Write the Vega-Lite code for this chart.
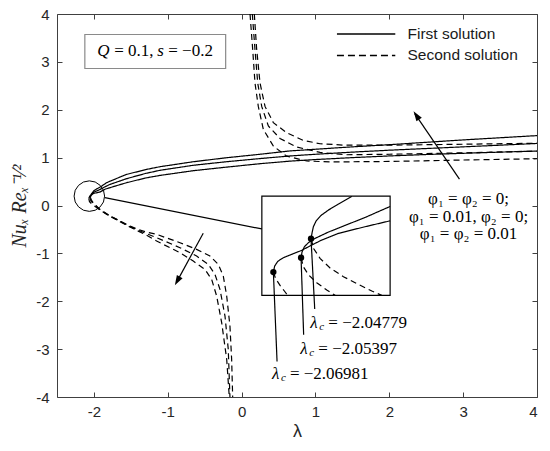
{
  "$schema": "https://vega.github.io/schema/vega-lite/v6.json",
  "width": 480,
  "height": 383,
  "autosize": {"type": "none"},
  "padding": {"left": 57, "top": 14, "right": 13, "bottom": 54},
  "background": "white",
  "config": {
    "view": {"stroke": "#404040", "strokeWidth": 1},
    "axis": {"grid": false, "domain": false, "tickColor": "#404040", "labelColor": "#262626", "labelFont": "Liberation Sans", "labelFontSize": 15, "titleColor": "#262626"}
  },
  "datasets": {
    "main": [
      {"g":"F1","s":"first","x":-2.04779,"y":0.17},{"g":"F1","s":"first","x":-2.035,"y":0.24},{"g":"F1","s":"first","x":-2.0,"y":0.31},{"g":"F1","s":"first","x":-1.965,"y":0.345},{"g":"F1","s":"first","x":-1.9,"y":0.40},{"g":"F1","s":"first","x":-1.829,"y":0.476},{"g":"F1","s":"first","x":-1.7,"y":0.56},{"g":"F1","s":"first","x":-1.558,"y":0.649},{"g":"F1","s":"first","x":-1.3,"y":0.75},{"g":"F1","s":"first","x":-1.106,"y":0.81},{"g":"F1","s":"first","x":-0.655,"y":0.914},{"g":"F1","s":"first","x":-0.202,"y":0.998},{"g":"F1","s":"first","x":0.249,"y":1.07},{"g":"F1","s":"first","x":0.656,"y":1.14},{"g":"F1","s":"first","x":1.0,"y":1.175},{"g":"F1","s":"first","x":1.5,"y":1.225},{"g":"F1","s":"first","x":2.0,"y":1.27},{"g":"F1","s":"first","x":2.5,"y":1.32},{"g":"F1","s":"first","x":3.0,"y":1.37},{"g":"F1","s":"first","x":3.5,"y":1.415},{"g":"F1","s":"first","x":4.0,"y":1.46},
      {"g":"F2","s":"first","x":-2.05397,"y":0.16},{"g":"F2","s":"first","x":-2.04,"y":0.22},{"g":"F2","s":"first","x":-2.0,"y":0.28},{"g":"F2","s":"first","x":-1.943,"y":0.315},{"g":"F2","s":"first","x":-1.85,"y":0.39},{"g":"F2","s":"first","x":-1.784,"y":0.44},{"g":"F2","s":"first","x":-1.558,"y":0.56},{"g":"F2","s":"first","x":-1.3,"y":0.67},{"g":"F2","s":"first","x":-1.106,"y":0.735},{"g":"F2","s":"first","x":-0.655,"y":0.84},{"g":"F2","s":"first","x":-0.202,"y":0.915},{"g":"F2","s":"first","x":0.249,"y":0.98},{"g":"F2","s":"first","x":0.656,"y":1.035},{"g":"F2","s":"first","x":1.0,"y":1.07},{"g":"F2","s":"first","x":1.5,"y":1.115},{"g":"F2","s":"first","x":2.0,"y":1.155},{"g":"F2","s":"first","x":2.5,"y":1.19},{"g":"F2","s":"first","x":3.0,"y":1.225},{"g":"F2","s":"first","x":3.5,"y":1.26},{"g":"F2","s":"first","x":4.0,"y":1.296},
      {"g":"F3","s":"first","x":-2.06981,"y":0.15},{"g":"F3","s":"first","x":-2.055,"y":0.20},{"g":"F3","s":"first","x":-2.0,"y":0.255},{"g":"F3","s":"first","x":-1.92,"y":0.28},{"g":"F3","s":"first","x":-1.85,"y":0.34},{"g":"F3","s":"first","x":-1.739,"y":0.393},{"g":"F3","s":"first","x":-1.558,"y":0.476},{"g":"F3","s":"first","x":-1.3,"y":0.575},{"g":"F3","s":"first","x":-1.106,"y":0.628},{"g":"F3","s":"first","x":-0.655,"y":0.727},{"g":"F3","s":"first","x":-0.202,"y":0.802},{"g":"F3","s":"first","x":0.249,"y":0.873},{"g":"F3","s":"first","x":0.656,"y":0.927},{"g":"F3","s":"first","x":1.0,"y":0.96},{"g":"F3","s":"first","x":1.5,"y":1.0},{"g":"F3","s":"first","x":2.0,"y":1.035},{"g":"F3","s":"first","x":2.5,"y":1.065},{"g":"F3","s":"first","x":3.0,"y":1.09},{"g":"F3","s":"first","x":3.5,"y":1.115},{"g":"F3","s":"first","x":4.0,"y":1.136},
      {"g":"L1","s":"second","x":-2.04779,"y":0.17},{"g":"L1","s":"second","x":-2.03,"y":0.1},{"g":"L1","s":"second","x":-2.0,"y":0.04},{"g":"L1","s":"second","x":-1.92,"y":-0.08},{"g":"L1","s":"second","x":-1.8,"y":-0.2},{"g":"L1","s":"second","x":-1.69,"y":-0.29},{"g":"L1","s":"second","x":-1.55,"y":-0.4},{"g":"L1","s":"second","x":-1.42,"y":-0.49},{"g":"L1","s":"second","x":-1.3,"y":-0.55},{"g":"L1","s":"second","x":-1.151,"y":-0.603},{"g":"L1","s":"second","x":-0.835,"y":-0.777},{"g":"L1","s":"second","x":-0.609,"y":-0.916},{"g":"L1","s":"second","x":-0.429,"y":-1.056},{"g":"L1","s":"second","x":-0.316,"y":-1.23},{"g":"L1","s":"second","x":-0.248,"y":-1.474},{"g":"L1","s":"second","x":-0.202,"y":-1.891},{"g":"L1","s":"second","x":-0.158,"y":-2.518},{"g":"L1","s":"second","x":-0.135,"y":-3.213},{"g":"L1","s":"second","x":-0.121,"y":-4.0},
      {"g":"L2","s":"second","x":-2.05397,"y":0.16},{"g":"L2","s":"second","x":-2.04,"y":0.09},{"g":"L2","s":"second","x":-2.0,"y":0.03},{"g":"L2","s":"second","x":-1.92,"y":-0.085},{"g":"L2","s":"second","x":-1.8,"y":-0.205},{"g":"L2","s":"second","x":-1.69,"y":-0.295},{"g":"L2","s":"second","x":-1.55,"y":-0.41},{"g":"L2","s":"second","x":-1.42,"y":-0.505},{"g":"L2","s":"second","x":-1.3,"y":-0.58},{"g":"L2","s":"second","x":-1.151,"y":-0.672},{"g":"L2","s":"second","x":-0.835,"y":-0.881},{"g":"L2","s":"second","x":-0.609,"y":-1.056},{"g":"L2","s":"second","x":-0.451,"y":-1.23},{"g":"L2","s":"second","x":-0.361,"y":-1.438},{"g":"L2","s":"second","x":-0.293,"y":-1.75},{"g":"L2","s":"second","x":-0.225,"y":-2.31},{"g":"L2","s":"second","x":-0.181,"y":-3.0},{"g":"L2","s":"second","x":-0.158,"y":-4.0},
      {"g":"L3","s":"second","x":-2.06981,"y":0.15},{"g":"L3","s":"second","x":-2.06,"y":0.08},{"g":"L3","s":"second","x":-2.02,"y":0.02},{"g":"L3","s":"second","x":-1.92,"y":-0.09},{"g":"L3","s":"second","x":-1.8,"y":-0.21},{"g":"L3","s":"second","x":-1.69,"y":-0.3},{"g":"L3","s":"second","x":-1.55,"y":-0.42},{"g":"L3","s":"second","x":-1.42,"y":-0.52},{"g":"L3","s":"second","x":-1.3,"y":-0.61},{"g":"L3","s":"second","x":-1.151,"y":-0.743},{"g":"L3","s":"second","x":-0.835,"y":-0.986},{"g":"L3","s":"second","x":-0.655,"y":-1.161},{"g":"L3","s":"second","x":-0.496,"y":-1.334},{"g":"L3","s":"second","x":-0.406,"y":-1.543},{"g":"L3","s":"second","x":-0.338,"y":-1.891},{"g":"L3","s":"second","x":-0.27,"y":-2.447},{"g":"L3","s":"second","x":-0.202,"y":-3.213},{"g":"L3","s":"second","x":-0.167,"y":-4.0},
      {"g":"U1","s":"second","x":0.172,"y":4.0},{"g":"U1","s":"second","x":0.204,"y":3.26},{"g":"U1","s":"second","x":0.249,"y":2.56},{"g":"U1","s":"second","x":0.317,"y":2.07},{"g":"U1","s":"second","x":0.43,"y":1.73},{"g":"U1","s":"second","x":0.611,"y":1.52},{"g":"U1","s":"second","x":0.836,"y":1.36},{"g":"U1","s":"second","x":1.062,"y":1.29},{"g":"U1","s":"second","x":1.4,"y":1.26},{"g":"U1","s":"second","x":2.0,"y":1.26},{"g":"U1","s":"second","x":3.0,"y":1.28},{"g":"U1","s":"second","x":4.0,"y":1.3},
      {"g":"U2","s":"second","x":0.145,"y":4.0},{"g":"U2","s":"second","x":0.181,"y":3.26},{"g":"U2","s":"second","x":0.218,"y":2.56},{"g":"U2","s":"second","x":0.272,"y":2.07},{"g":"U2","s":"second","x":0.362,"y":1.66},{"g":"U2","s":"second","x":0.52,"y":1.4},{"g":"U2","s":"second","x":0.747,"y":1.22},{"g":"U2","s":"second","x":1.062,"y":1.11},{"g":"U2","s":"second","x":1.4,"y":1.06},{"g":"U2","s":"second","x":2.0,"y":1.07},{"g":"U2","s":"second","x":3.0,"y":1.1},{"g":"U2","s":"second","x":4.0,"y":1.136},
      {"g":"U3","s":"second","x":0.114,"y":4.0},{"g":"U3","s":"second","x":0.15,"y":3.26},{"g":"U3","s":"second","x":0.181,"y":2.56},{"g":"U3","s":"second","x":0.226,"y":2.07},{"g":"U3","s":"second","x":0.294,"y":1.59},{"g":"U3","s":"second","x":0.43,"y":1.24},{"g":"U3","s":"second","x":0.611,"y":1.03},{"g":"U3","s":"second","x":0.882,"y":0.93},{"g":"U3","s":"second","x":1.2,"y":0.91},{"g":"U3","s":"second","x":2.0,"y":0.92},{"g":"U3","s":"second","x":3.0,"y":0.95},{"g":"U3","s":"second","x":4.0,"y":0.977}
    ],
    "inset": [
      {"g":"S1","s":"first","x":0.43,"y":-1.39},{"g":"S1","s":"first","x":0.448,"y":-1.264},{"g":"S1","s":"first","x":0.489,"y":-1.167},{"g":"S1","s":"first","x":0.565,"y":-1.09},{"g":"S1","s":"first","x":0.678,"y":-1.021},{"g":"S1","s":"first","x":0.814,"y":-0.937},{"g":"S1","s":"first","x":0.94,"y":-0.833},{"g":"S1","s":"first","x":1.085,"y":-0.722},{"g":"S1","s":"first","x":1.311,"y":-0.583},{"g":"S1","s":"first","x":1.672,"y":-0.443},{"g":"S1","s":"first","x":2.011,"y":-0.32},
      {"g":"S2","s":"first","x":0.805,"y":-1.091},{"g":"S2","s":"first","x":0.818,"y":-0.972},{"g":"S2","s":"first","x":0.85,"y":-0.861},{"g":"S2","s":"first","x":0.904,"y":-0.777},{"g":"S2","s":"first","x":0.995,"y":-0.687},{"g":"S2","s":"first","x":1.175,"y":-0.555},{"g":"S2","s":"first","x":1.401,"y":-0.416},{"g":"S2","s":"first","x":1.672,"y":-0.25},{"g":"S2","s":"first","x":2.011,"y":-0.02},
      {"g":"S3","s":"first","x":0.94,"y":-0.694},{"g":"S3","s":"first","x":0.954,"y":-0.569},{"g":"S3","s":"first","x":0.972,"y":-0.443},{"g":"S3","s":"first","x":1.008,"y":-0.325},{"g":"S3","s":"first","x":1.076,"y":-0.207},{"g":"S3","s":"first","x":1.175,"y":-0.096},{"g":"S3","s":"first","x":1.311,"y":0.03},{"g":"S3","s":"first","x":1.492,"y":0.19},
      {"g":"D1","s":"second","x":0.43,"y":-1.39},{"g":"D1","s":"second","x":0.461,"y":-1.529},{"g":"D1","s":"second","x":0.52,"y":-1.668},{"g":"D1","s":"second","x":0.579,"y":-1.786},{"g":"D1","s":"second","x":0.624,"y":-1.877},
      {"g":"D2","s":"second","x":0.805,"y":-1.091},{"g":"D2","s":"second","x":0.836,"y":-1.278},{"g":"D2","s":"second","x":0.904,"y":-1.445},{"g":"D2","s":"second","x":1.017,"y":-1.612},{"g":"D2","s":"second","x":1.153,"y":-1.765},{"g":"D2","s":"second","x":1.266,"y":-1.877},
      {"g":"D3","s":"second","x":0.94,"y":-0.694},{"g":"D3","s":"second","x":0.977,"y":-0.903},{"g":"D3","s":"second","x":1.062,"y":-1.104},{"g":"D3","s":"second","x":1.198,"y":-1.306},{"g":"D3","s":"second","x":1.379,"y":-1.487},{"g":"D3","s":"second","x":1.582,"y":-1.647},{"g":"D3","s":"second","x":1.763,"y":-1.786},{"g":"D3","s":"second","x":1.898,"y":-1.877}
    ],
    "dots": [
      {"x":0.43,"y":-1.39,"lx":0.48,"ly":-3.26,"tx":0.41,"ty":-3.515,"rest":"= −2.06981"},
      {"x":0.805,"y":-1.091,"lx":0.84,"ly":-2.7,"tx":0.795,"ty":-3.0,"rest":"= −2.05397"},
      {"x":0.94,"y":-0.694,"lx":0.99,"ly":-2.16,"tx":0.93,"ty":-2.45,"rest":"= −2.04779"}
    ],
    "segs": [
      {"x":-1.852,"y":0.163,"x2":0.274,"y2":-0.49},
      {"x":2.95,"y":0.55,"x2":2.345,"y2":1.92},
      {"x":-0.52,"y":-0.58,"x2":-0.88,"y2":-1.6}
    ],
    "heads": [
      {"x":2.366,"y":1.883,"a":326},
      {"x":-0.871,"y":-1.576,"a":209}
    ],
    "phi": [
      {"x":3.073,"y":0.13,"t":"φ₁ = φ₂ = 0;"},
      {"x":3.073,"y":-0.242,"t":"φ₁ = 0.01, φ₂ = 0;"},
      {"x":3.073,"y":-0.603,"t":"φ₁ = φ₂ = 0.01"}
    ],
    "qlabel": [
      {"x":-1.17,"y":3.217,"q":"Q","a":"= 0.1,","s":"s","b":"= −0.2"}
    ],
    "legend": [
      {"x":1.291,"x2":2.081,"y":3.58,"s":"first","t":"First solution","tx":2.246},
      {"x":1.291,"x2":2.081,"y":3.134,"s":"second","t":"Second solution","tx":2.246}
    ]
  },
  "layer": [
    {
      "data": {"name": "main"},
      "mark": {"type": "line", "color": "black", "strokeWidth": 1.2, "clip": true},
      "encoding": {
        "x": {"field": "x", "type": "quantitative", "scale": {"domain": [-2.5, 4], "nice": false, "zero": false},
              "axis": {"orient": "bottom", "values": [-2,-1,0,1,2,3,4], "labelExpr": "'' + datum.value", "tickSize": -5, "labelPadding": 12, "title": "λ", "titleFont": "Liberation Sans", "titleFontSize": 18, "titleFontWeight": "normal", "titlePadding": 3}},
        "y": {"field": "y", "type": "quantitative", "scale": {"domain": [-4, 4], "nice": false, "zero": false},
              "axis": {"orient": "left", "values": [-4,-3,-2,-1,0,1,2,3,4], "labelExpr": "'' + datum.value", "tickSize": -5, "labelPadding": 13, "title": "Nuₓ Reₓ⁻¹⁄²", "titleFont": "Liberation Serif", "titleFontStyle": "italic", "titleFontSize": 20, "titleFontWeight": "normal", "titlePadding": 6}},
        "detail": {"field": "g"},
        "strokeDash": {"field": "s", "type": "nominal", "scale": {"domain": ["first", "second"], "range": [[1, 0], [6, 4]]}, "legend": null}
      }
    },
    {
      "data": {"name": "main"},
      "mark": {"type": "point", "opacity": 0},
      "encoding": {
        "x": {"field": "x", "type": "quantitative", "axis": {"orient": "top", "values": [-2,-1,0,1,2,3,4], "labels": false, "tickSize": -5, "title": null}},
        "y": {"field": "y", "type": "quantitative", "axis": {"orient": "right", "values": [-4,-3,-2,-1,0,1,2,3,4], "labels": false, "tickSize": -5, "title": null}}
      }
    },
    {
      "data": {"values": [{"x": 0.274, "x2": 2.011, "y": -1.877, "y2": 0.196}]},
      "mark": {"type": "rect", "fill": "white", "stroke": "black", "strokeWidth": 1.2},
      "encoding": {
        "x": {"field": "x", "type": "quantitative", "axis": null}, "x2": {"field": "x2"},
        "y": {"field": "y", "type": "quantitative", "axis": null}, "y2": {"field": "y2"}
      }
    },
    {
      "data": {"values": [{"x": -2.123, "x2": -0.216, "y": 2.862, "y2": 3.572}]},
      "mark": {"type": "rect", "fill": "white", "stroke": "#8a8a8a", "strokeWidth": 1.2},
      "encoding": {
        "x": {"field": "x", "type": "quantitative", "axis": null}, "x2": {"field": "x2"},
        "y": {"field": "y", "type": "quantitative", "axis": null}, "y2": {"field": "y2"}
      }
    },
    {
      "data": {"name": "inset"},
      "mark": {"type": "line", "color": "black", "strokeWidth": 1.2},
      "encoding": {
        "x": {"field": "x", "type": "quantitative", "axis": null},
        "y": {"field": "y", "type": "quantitative", "axis": null},
        "detail": {"field": "g"},
        "strokeDash": {"field": "s", "type": "nominal", "scale": {"domain": ["first", "second"], "range": [[1, 0], [6, 4]]}, "legend": null}
      }
    },
    {
      "data": {"name": "dots"},
      "mark": {"type": "rule", "color": "black", "strokeWidth": 1.2},
      "encoding": {
        "x": {"field": "lx", "type": "quantitative", "axis": null}, "x2": {"field": "x"},
        "y": {"field": "ly", "type": "quantitative", "axis": null}, "y2": {"field": "y"}
      }
    },
    {
      "data": {"name": "dots"},
      "mark": {"type": "point", "shape": "circle", "filled": true, "color": "black", "size": 40, "opacity": 1},
      "encoding": {
        "x": {"field": "x", "type": "quantitative", "axis": null},
        "y": {"field": "y", "type": "quantitative", "axis": null}
      }
    },
    {
      "data": {"name": "segs"},
      "mark": {"type": "rule", "color": "black", "strokeWidth": 1.2},
      "encoding": {
        "x": {"field": "x", "type": "quantitative", "axis": null}, "x2": {"field": "x2"},
        "y": {"field": "y", "type": "quantitative", "axis": null}, "y2": {"field": "y2"}
      }
    },
    {
      "data": {"values": [{"x": -2.062, "y": 0.196}]},
      "mark": {"type": "point", "shape": "circle", "filled": false, "color": "black", "strokeWidth": 1, "size": 930, "opacity": 1},
      "encoding": {
        "x": {"field": "x", "type": "quantitative", "axis": null},
        "y": {"field": "y", "type": "quantitative", "axis": null}
      }
    },
    {
      "data": {"name": "heads"},
      "mark": {"type": "point", "shape": "M0,-1L0.65,1L-0.65,1Z", "filled": true, "color": "black", "size": 100, "opacity": 1},
      "encoding": {
        "x": {"field": "x", "type": "quantitative", "axis": null},
        "y": {"field": "y", "type": "quantitative", "axis": null},
        "angle": {"field": "a", "type": "quantitative", "scale": null}
      }
    },
    {
      "data": {"name": "dots"},
      "mark": {"type": "text", "align": "left", "baseline": "middle", "font": "Liberation Serif", "fontSize": 17, "fontStyle": "italic", "color": "black"},
      "encoding": {
        "x": {"field": "tx", "type": "quantitative", "axis": null},
        "y": {"field": "ty", "type": "quantitative", "axis": null},
        "text": {"value": "λ"}
      }
    },
    {
      "data": {"name": "dots"},
      "mark": {"type": "text", "align": "left", "baseline": "middle", "font": "Liberation Serif", "fontSize": 11, "fontStyle": "italic", "color": "black", "dx": 9, "dy": 4},
      "encoding": {
        "x": {"field": "tx", "type": "quantitative", "axis": null},
        "y": {"field": "ty", "type": "quantitative", "axis": null},
        "text": {"value": "c"}
      }
    },
    {
      "data": {"name": "dots"},
      "mark": {"type": "text", "align": "left", "baseline": "middle", "font": "Liberation Serif", "fontSize": 17, "color": "black", "dx": 18},
      "encoding": {
        "x": {"field": "tx", "type": "quantitative", "axis": null},
        "y": {"field": "ty", "type": "quantitative", "axis": null},
        "text": {"field": "rest"}
      }
    },
    {
      "data": {"name": "phi"},
      "mark": {"type": "text", "align": "center", "baseline": "middle", "font": "Liberation Serif", "fontSize": 17, "color": "black"},
      "encoding": {
        "x": {"field": "x", "type": "quantitative", "axis": null},
        "y": {"field": "y", "type": "quantitative", "axis": null},
        "text": {"field": "t"}
      }
    },
    {
      "data": {"name": "qlabel"},
      "mark": {"type": "text", "align": "left", "baseline": "middle", "font": "Liberation Serif", "fontSize": 17, "fontStyle": "italic", "color": "black", "dx": -58},
      "encoding": {
        "x": {"field": "x", "type": "quantitative", "axis": null},
        "y": {"field": "y", "type": "quantitative", "axis": null},
        "text": {"field": "q"}
      }
    },
    {
      "data": {"name": "qlabel"},
      "mark": {"type": "text", "align": "left", "baseline": "middle", "font": "Liberation Serif", "fontSize": 17, "color": "black", "dx": -41},
      "encoding": {
        "x": {"field": "x", "type": "quantitative", "axis": null},
        "y": {"field": "y", "type": "quantitative", "axis": null},
        "text": {"field": "a"}
      }
    },
    {
      "data": {"name": "qlabel"},
      "mark": {"type": "text", "align": "left", "baseline": "middle", "font": "Liberation Serif", "fontSize": 17, "fontStyle": "italic", "color": "black", "dx": 2},
      "encoding": {
        "x": {"field": "x", "type": "quantitative", "axis": null},
        "y": {"field": "y", "type": "quantitative", "axis": null},
        "text": {"field": "s"}
      }
    },
    {
      "data": {"name": "qlabel"},
      "mark": {"type": "text", "align": "left", "baseline": "middle", "font": "Liberation Serif", "fontSize": 17, "color": "black", "dx": 13},
      "encoding": {
        "x": {"field": "x", "type": "quantitative", "axis": null},
        "y": {"field": "y", "type": "quantitative", "axis": null},
        "text": {"field": "b"}
      }
    },
    {
      "data": {"name": "legend"},
      "mark": {"type": "rule", "color": "black", "strokeWidth": 1.5},
      "encoding": {
        "x": {"field": "x", "type": "quantitative", "axis": null}, "x2": {"field": "x2"},
        "y": {"field": "y", "type": "quantitative", "axis": null},
        "strokeDash": {"field": "s", "type": "nominal", "scale": {"domain": ["first", "second"], "range": [[1, 0], [7, 4]]}, "legend": null}
      }
    },
    {
      "data": {"name": "legend"},
      "mark": {"type": "text", "align": "left", "baseline": "middle", "font": "Liberation Sans", "fontSize": 15.5, "color": "#1a1a1a"},
      "encoding": {
        "x": {"field": "tx", "type": "quantitative", "axis": null},
        "y": {"field": "y", "type": "quantitative", "axis": null},
        "text": {"field": "t"}
      }
    }
  ],
  "resolve": {"axis": {"x": "independent", "y": "independent"}, "scale": {"strokeDash": "independent"}}
}
